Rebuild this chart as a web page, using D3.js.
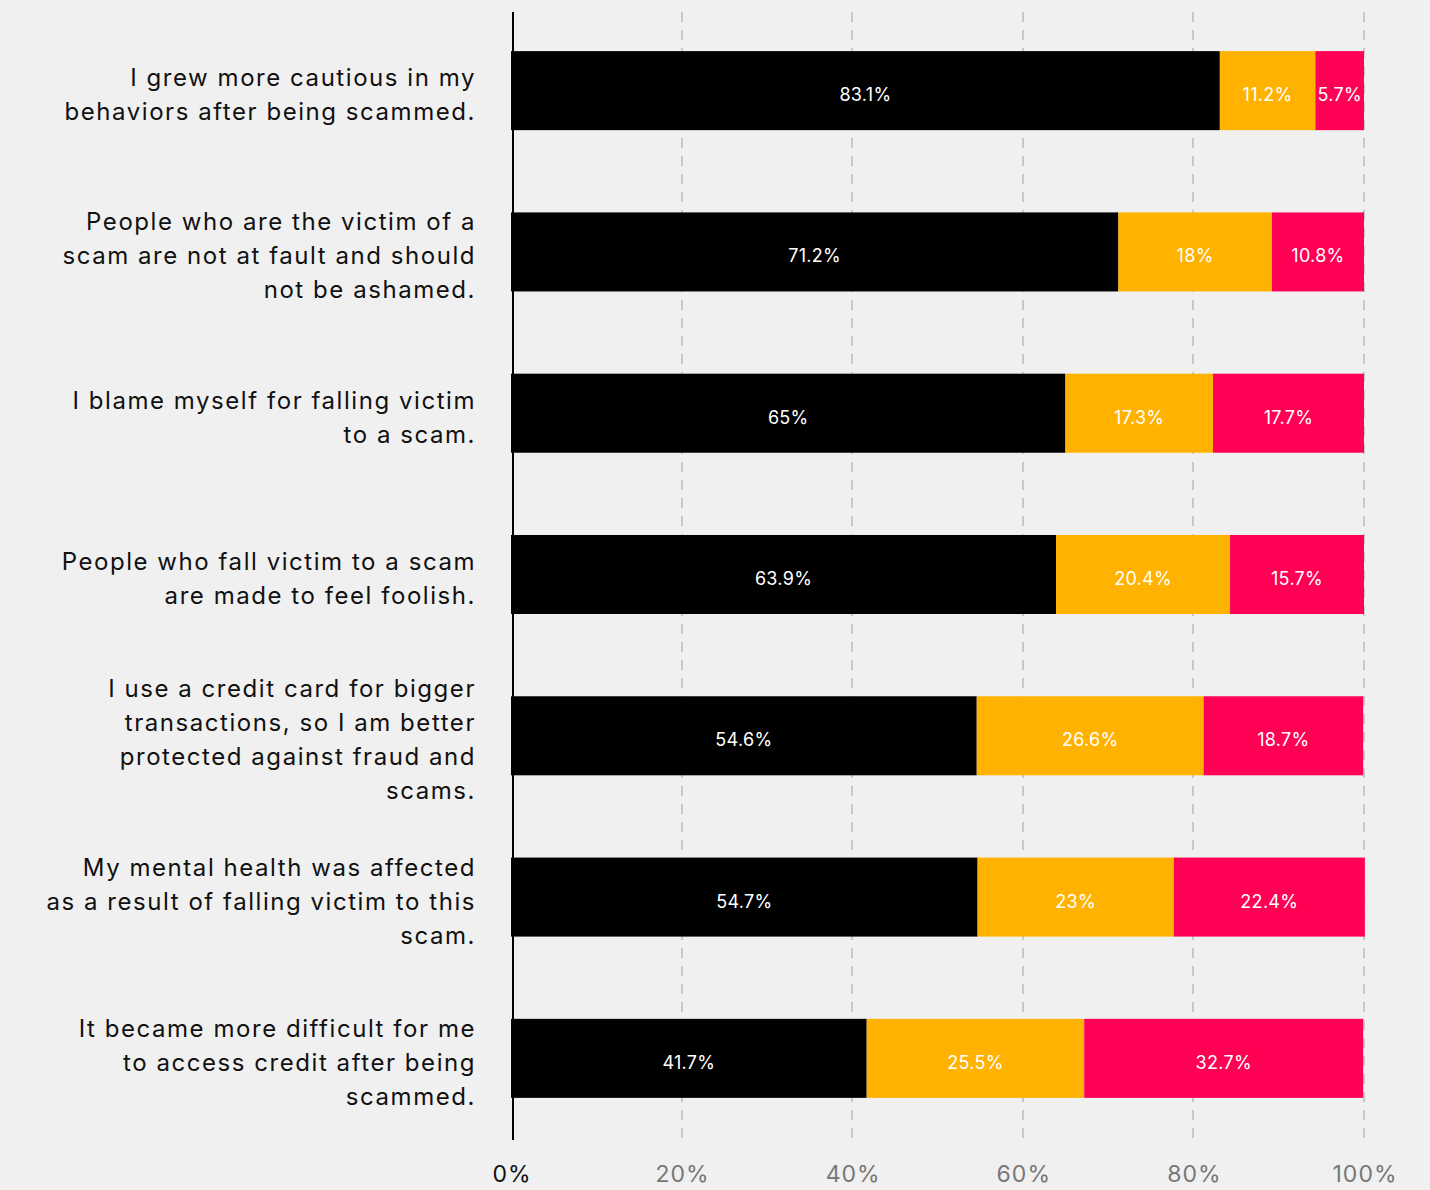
<!DOCTYPE html>
<html>
<head>
<meta charset="utf-8">
<script src="https://cdn.jsdelivr.net/npm/d3@7"></script>
<style>
  html, body { margin: 0; padding: 0; background: #f0f0f0; }
  svg { display: block; font-family: Inter, "Noto Sans", sans-serif; }
</style>
</head>
<body>
<svg id="chart" width="1430" height="1190"></svg>
<script>
// Survey statements (multi-line labels) and the three response shares per statement
const statements = [
  ["I grew more cautious in my", "behaviors after being scammed."],
  ["People who are the victim of a", "scam are not at fault and should", "not be ashamed."],
  ["I blame myself for falling victim", "to a scam."],
  ["People who fall victim to a scam", "are made to feel foolish."],
  ["I use a credit card for bigger", "transactions, so I am better", "protected against fraud and", "scams."],
  ["My mental health was affected", "as a result of falling victim to this", "scam."],
  ["It became more difficult for me", "to access credit after being", "scammed."]
];
const agree    = [83.1, 71.2, 65, 63.9, 54.6, 54.7, 41.7];
const neutral  = [11.2, 18, 17.3, 20.4, 26.6, 23, 25.5];
const disagree = [5.7, 10.8, 17.7, 15.7, 18.7, 22.4, 32.7];
const seriesKeys = ["agree", "neutral", "disagree"];
const seriesColors = ["#000000", "#ffb300", "#ff0055"];
const tickValues = [0, 20, 40, 60, 80, 100];

const rows = statements.map((s, i) => ({
  id: i, lines: s, agree: agree[i], neutral: neutral[i], disagree: disagree[i]
}));

const svg = d3.select("#chart");
const x = d3.scaleLinear().domain([0, 100]).range([511, 1364]);
const y = d3.scaleBand().domain(rows.map(d => d.id)).range([10, 1139])
  .paddingInner(0.51).paddingOuter(0.255);
const color = d3.scaleOrdinal().domain(seriesKeys).range(seriesColors);

// dashed vertical gridlines
svg.append("g").selectAll("line").data(tickValues.filter(v => v > 0)).join("line")
  .attr("x1", d => Math.round(x(d))).attr("x2", d => Math.round(x(d)))
  .attr("y1", 12).attr("y2", 1140)
  .attr("stroke", "#c8c8c8").attr("stroke-width", 2)
  .attr("stroke-dasharray", "10,8");

// stacked bars
const stacked = d3.stack().keys(seriesKeys)(rows);
const layer = svg.append("g").selectAll("g").data(stacked).join("g")
  .attr("fill", d => color(d.key));
layer.selectAll("rect").data(d => d).join("rect")
  .attr("x", d => x(d[0]))
  .attr("width", d => x(d[1]) - x(d[0]))
  .attr("y", d => y(d.data.id))
  .attr("height", y.bandwidth());

// segment value labels
svg.append("g").selectAll("g").data(stacked).join("g")
  .selectAll("text").data(d => d.map(p => ({p, key: d.key}))).join("text")
  .attr("x", d => (x(d.p[0]) + x(d.p[1])) / 2)
  .attr("y", d => y(d.p.data.id) + y.bandwidth() / 2 + 4)
  .attr("text-anchor", "middle")
  .attr("dominant-baseline", "central")
  .attr("fill", "#ffffff")
  .attr("font-size", 18)
  .attr("letter-spacing", 0.3)
  .text(d => d.p.data[d.key] + "%");

// y axis line
svg.append("line")
  .attr("x1", 513).attr("x2", 513).attr("y1", 12).attr("y2", 1140)
  .attr("stroke", "#000").attr("stroke-width", 2);

// category labels
const lineH = 34;
const lab = svg.append("g").selectAll("text").data(rows).join("text")
  .attr("text-anchor", "end")
  .attr("font-size", 24)
  .attr("letter-spacing", 1.55)
  .attr("fill", "#111");
lab.each(function(d) {
  const n = d.lines.length;
  const cy = y(d.id) + y.bandwidth() / 2 + 4;
  d3.select(this).selectAll("tspan").data(d.lines).join("tspan")
    .attr("x", 476)
    .attr("y", (l, i) => cy + (i - (n - 1) / 2) * lineH)
    .attr("dominant-baseline", "central")
    .text(l => l);
});

// x tick labels
svg.append("g").selectAll("text").data(tickValues).join("text")
  .attr("x", d => x(d) + 1)
  .attr("y", 1174)
  .attr("text-anchor", "middle")
  .attr("dominant-baseline", "central")
  .attr("font-size", 23)
  .attr("letter-spacing", 1)
  .attr("fill", d => d === 0 ? "#111" : "#777")
  .text(d => d + "%");
</script>
</body>
</html>
